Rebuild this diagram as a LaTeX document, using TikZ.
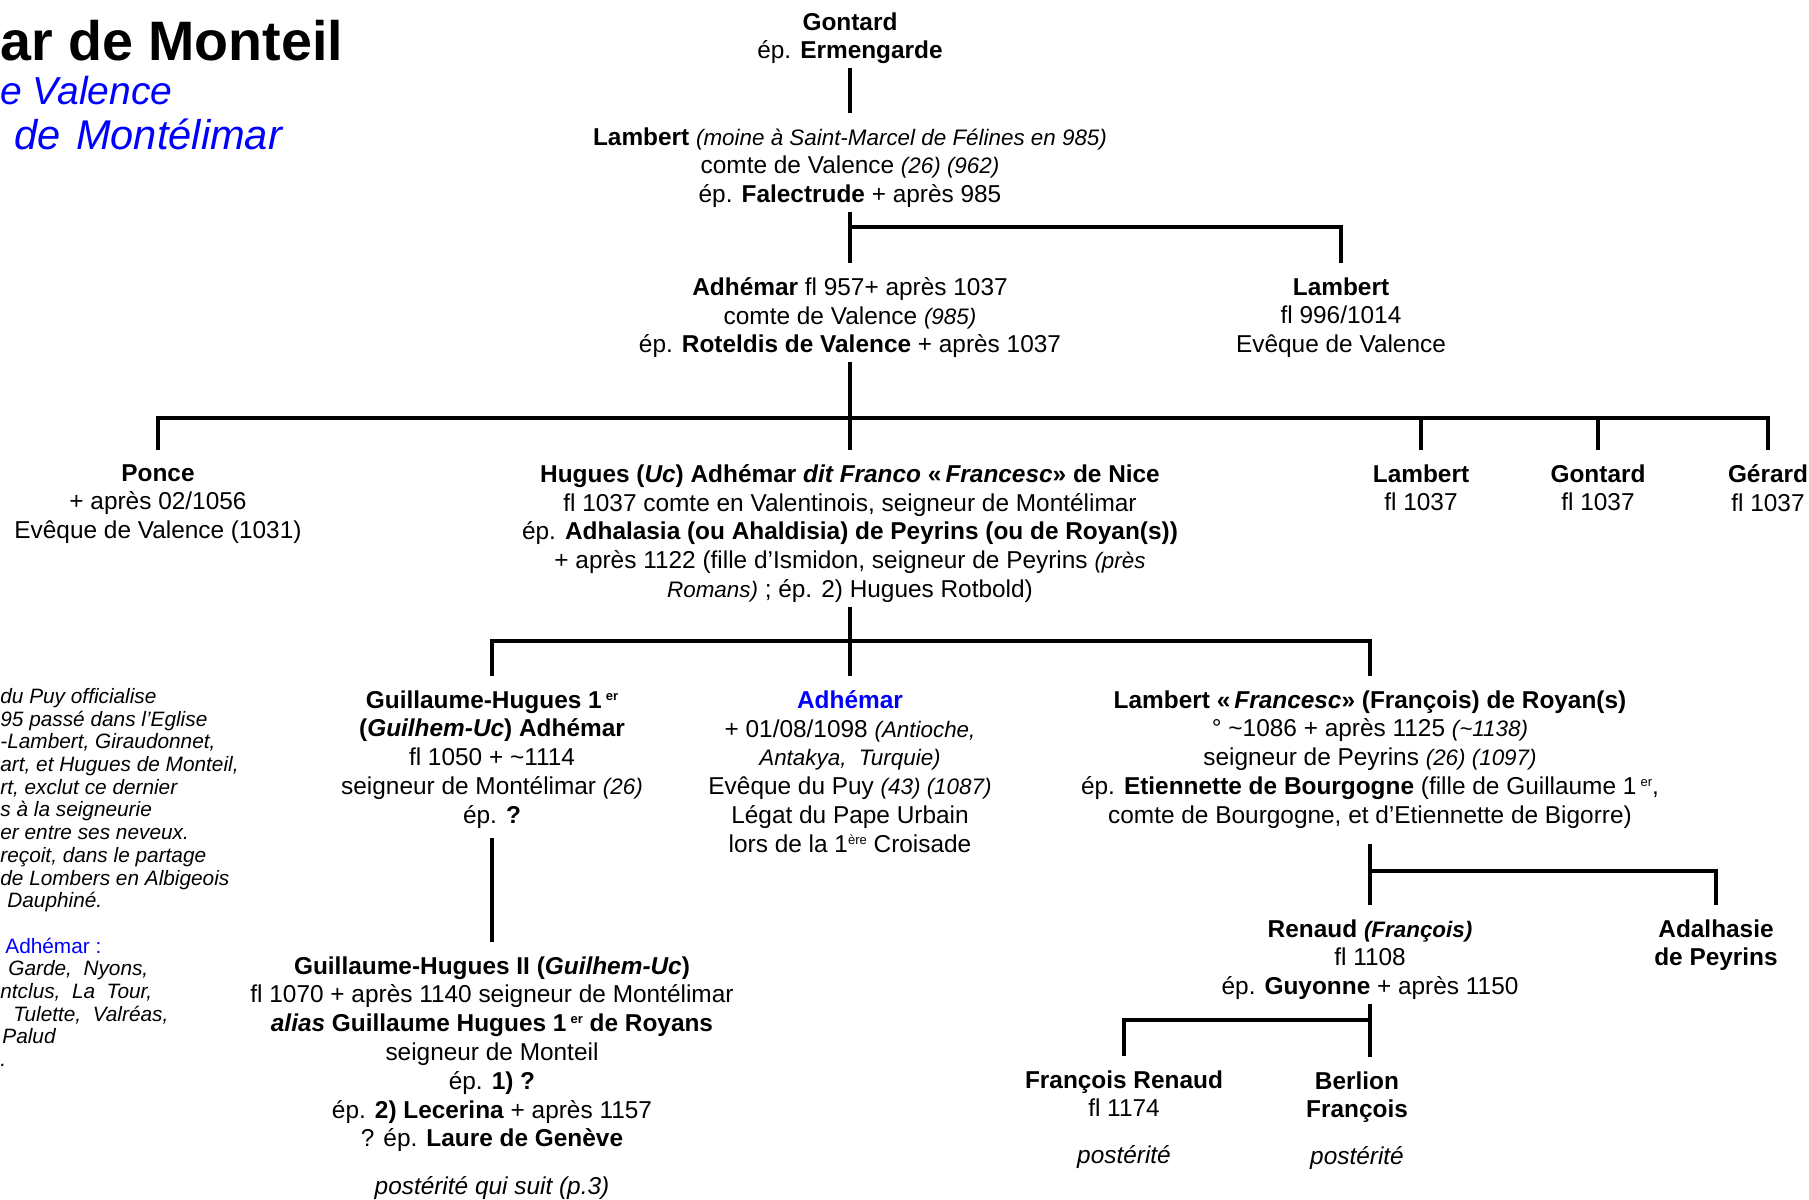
\documentclass[tikz,border=0pt]{standalone}
\usepackage{fontspec}
\setmainfont{Liberation Sans}
\usetikzlibrary{positioning}

\definecolor{bleu}{RGB}{0,0,255}
\newcommand\petit[1]{{\fontsize{11.2}{14.4}\selectfont\itshape #1}}
\newcommand\env{{\char"007E}}
\newcommand\expo[1]{\raisebox{4pt}{\fontsize{6.5}{7}\selectfont #1}}

\begin{document}
\begin{tikzpicture}[x=0.5pt, y=-0.5pt,
    pers/.style={align=center, inner sep=0pt, anchor=north,
      font=\fontsize{12.2}{14.4}\selectfont,
      execute at begin node=\strut, execute at end node=\strut},
    note/.style={align=left, inner sep=0pt, anchor=north west,
      font=\fontsize{10.4}{11.35}\selectfont\itshape,
      execute at begin node=\strut},
    titre/.style={anchor=base west, inner sep=0pt},
    link/.style={line width=1.6pt},
    down/.style={link, shorten >=7pt},
    updown/.style={link, shorten <=7pt, shorten >=7pt}
  ]
  \useasboundingbox (0,0) rectangle (1809,1199);

  % titre (coupe a gauche)
  \node[titre, font=\fontsize{27.8}{32}\selectfont\bfseries] (titre) at (0,60) {ar de Monteil};
  \node[titre, font=\fontsize{19.5}{24}\selectfont\itshape, text=bleu] (sous1) at (0,104) {e Valence};
  \node[titre, font=\fontsize{20.8}{24}\selectfont\itshape, text=bleu] (sous2) at (14,149) {de\hspace{2pt} Montélimar};

  \node[note] (notes) at (0,688) {du Puy officialise\\ 95 passé dans l’Eglise\\ -Lambert, Giraudonnet,\\
    art, et Hugues de Monteil,\\ rt, exclut ce dernier\\ s à la seigneurie\\ er entre ses neveux.\\
    reçoit, dans le partage\\ de Lombers en Albigeois\\ \hspace*{3.5pt}Dauphiné.\\[11.35pt]
    \hspace*{2.5pt}\textcolor{bleu}{\upshape Adhémar :}\\ \hspace*{4pt}Garde,\ \ Nyons,\\ ntclus,\ \ La\ \ Tour,\\
    \hspace*{6.5pt}Tulette,\ \ Valréas,\\ \hspace*{1pt}Palud\\ .};

  % generations
  \node[pers] (gontard) at (850,12) {\textbf{Gontard}\\ ép. \textbf{Ermengarde}};
  \node[pers] (lambert) at (850,127) {\textbf{Lambert} \petit{(moine à Saint-Marcel de Félines en 985)}\\
    comte de Valence \petit{(26) (962)}\\ ép. \textbf{Falectrude} + après 985};

  \node[pers] (adhemar) at (850,277) {\textbf{Adhémar} fl 957+ après 1037\\ comte de Valence \petit{(985)}\\
    ép. \textbf{Roteldis de Valence} + après 1037};
  \node[pers] (lambev) at (1341,277) {\textbf{Lambert}\\ fl 996/1014\\ Evêque de Valence};

  \node[pers] (ponce) at (158,464) {\textbf{Ponce}\\ + après 02/1056\\ Evêque de Valence (1031)};
  \node[pers] (hugues) at (850,464) {\textbf{Hugues (\textit{Uc}) Adhémar \textit{dit Franco} «\,\textit{Francesc}» de Nice}\\
    fl 1037 comte en Valentinois, seigneur de Montélimar\\
    ép. \textbf{Adhalasia (ou Ahaldisia) de Peyrins (ou de Royan(s))}\\
    + après 1122 (fille d’Ismidon, seigneur de Peyrins \petit{(près}\\
    \petit{Romans)} ; ép. 2) Hugues Rotbold)};
  \node[pers] (lambfl) at (1421,464) {\textbf{Lambert}\\ fl 1037};
  \node[pers] (gontfl) at (1598,464) {\textbf{Gontard}\\ fl 1037};
  \node[pers] (gerard) at (1768,464) {\textbf{Gérard}\\ fl 1037};

  \node[pers] (guilh) at (492,690) {\textbf{Guillaume-Hugues 1\,\expo{er}}\\
    \textbf{(\textit{Guilhem-Uc}) Adhémar}\\ fl 1050 + \env1114\\
    seigneur de Montélimar \petit{(26)}\\ ép. \textbf{?}};
  \node[pers] (adhpuy) at (850,690) {\textcolor{bleu}{\textbf{Adhémar}}\\
    + 01/08/1098 \petit{(Antioche,}\\ \petit{Antakya,\ \ Turquie)}\\
    Evêque du Puy \petit{(43) (1087)}\\ Légat du Pape Urbain\\ lors de la 1\expo{ère} Croisade};
  \node[pers] (lambfr) at (1370,690) {\textbf{Lambert «\,\textit{Francesc}» (François) de Royan(s)}\\
    ° \env1086 + après 1125 \petit{(\env1138)}\\ seigneur de Peyrins \petit{(26) (1097)}\\
    ép. \textbf{Etiennette de Bourgogne} (fille de Guillaume 1\,\expo{er},\\
    comte de Bourgogne, et d’Etiennette de Bigorre)};

  \node[pers] (guilh2) at (492,956) {\textbf{Guillaume-Hugues II (\textit{Guilhem-Uc})}\\
    fl 1070 + après 1140 seigneur de Montélimar\\
    \textbf{\textit{alias} Guillaume Hugues 1\,\expo{er} de Royans}\\
    seigneur de Monteil\\ ép. \textbf{1) ?}\\ ép. \textbf{2) Lecerina} + après 1157\\
    ? ép. \textbf{Laure de Genève}\\[9.5pt] \textit{postérité qui suit (p.3)}};

  \node[pers] (renaud) at (1370,919) {\textbf{Renaud \petit{(François)}}\\ fl 1108\\
    ép. \textbf{Guyonne} + après 1150};
  \node[pers] (adalh) at (1716,919) {\textbf{Adalhasie}\\ \textbf{de Peyrins}};

  \node[pers] (frren) at (1124,1070) {\textbf{François Renaud}\\ fl 1174\\[9pt] \textit{postérité}};
  \node[pers] (berlion) at (1357,1071) {\textbf{Berlion}\\ \textbf{François}\\[9pt] \textit{postérité}};

  % liens
  \coordinate (j1) at (850,227);
  \coordinate (j2) at (850,418);
  \coordinate (j3) at (850,641);
  \coordinate (j4) at (1370,871);
  \coordinate (j5) at (1370,1020);

  \draw[down] (gontard) -- (lambert);
  \draw[down] (lambert) -- (adhemar);
  \draw[down] (j1) -| (lambev);

  \draw[down] (adhemar) -- (hugues);
  \draw[updown] (ponce) |- (j2) -| (gerard);
  \draw[down] (j2 -| lambfl) -- (lambfl);
  \draw[down] (j2 -| gontfl) -- (gontfl);

  \draw[down] (hugues) -- (adhpuy);
  \draw[updown] (guilh) |- (j3) -| (lambfr);
  \draw[down, shorten <=3pt] (guilh) -- (guilh2);

  \draw[down, shorten <=6pt] (lambfr) -- (renaud);
  \draw[down] (j4) -| (adalh);
  \draw[down] (renaud.south) -- (renaud.south |- berlion.north);
  \draw[down] (j5) -| (frren);
\end{tikzpicture}
\end{document}
